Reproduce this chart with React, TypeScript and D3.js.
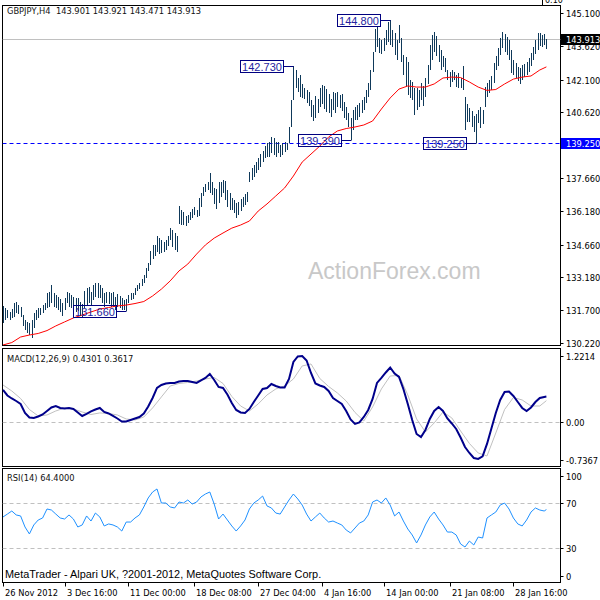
import { scaleLinear, line } from "d3"

const TITLE = "GBPJPY,H4  143.901 143.921 143.471 143.913"

// H4 bars, high / low
const HIGH = [
  131.89, 131.8, 131.71, 131.62, 131.75, 132.02, 132.07, 131.93, 131.84, 131.48,
  131.26, 131.17, 131.12, 131.26, 131.57, 131.71, 131.8, 131.8, 131.93, 132.02,
  132.47, 132.52, 132.84, 132.47, 132.38, 132.29, 132.2, 132.02, 132.25, 132.52,
  132.47, 132.38, 132.29, 132.25, 132.25, 132.07, 131.98, 132.56, 132.7, 132.75,
  132.52, 132.84, 132.93, 132.93, 132.84, 132.7, 132.47, 132.52, 132.52, 132.47,
  132.52, 132.29, 132.43, 132.34, 132.25, 132.16, 132.2, 132.38, 132.47, 132.47,
  132.7, 132.84, 132.93, 133.11, 133.29, 133.6, 133.83, 134.37, 134.64, 134.64,
  135.04, 134.95, 134.86, 134.77, 134.86, 135.04, 135.41, 135.32, 135.18, 135.04,
  136.4, 136.22, 136.13, 135.95, 135.99, 136.13, 136.26, 136.35, 136.22, 136.76,
  136.98, 137.25, 137.39, 137.48, 137.89, 137.48, 137.21, 137.16, 137.48, 137.48,
  137.57, 137.52, 137.12, 136.98, 136.76, 136.67, 136.53, 136.58, 136.71, 136.8,
  136.94, 137.03, 137.93, 138.11, 138.25, 138.38, 138.56, 138.74, 138.88, 139.1,
  139.24, 139.28, 139.51, 139.46, 139.28, 139.28, 139.15, 139.24, 139.28, 139.24,
  139.96, 141.18, 142.73, 142.53, 142.17, 142.3, 141.9, 141.72, 141.63, 141.54,
  141.18, 140.95, 141.36, 141.22, 141.72, 141.85, 141.81, 141.67, 141.45, 141.22,
  141.54, 141.49, 141.54, 141.4, 141.45, 141.09, 140.86, 140.59, 140.36, 140.73,
  140.86, 140.95, 141.04, 141.18, 141.31, 141.63, 141.94, 142.53, 143.34, 144.38,
  144.47, 143.97, 143.88, 143.97, 144.33, 144.69, 144.8, 144.33, 144.2, 143.88,
  144.56, 143.97, 143.21, 143.12, 142.89, 142.08, 141.99, 141.72, 141.72, 141.63,
  141.94, 141.81, 142.17, 142.76, 143.66, 144.11, 144.24, 144.06, 143.66, 143.43,
  143.16, 143.07, 142.53, 142.44, 142.53, 142.44, 142.3, 142.39, 142.17, 142.71,
  141.31, 140.99, 140.82, 140.68, 140.46, 140.55, 140.73, 140.86, 140.73, 141.76,
  141.94, 142.08, 142.26, 142.85, 143.16, 143.52, 143.97, 144.24, 144.15, 144.02,
  143.88, 143.43, 142.98, 142.85, 142.66, 142.62, 142.76, 142.8, 142.89, 143.07,
  143.3, 143.57, 143.88, 144.2, 144.2, 144.11, 144.15, 143.92,
]
const LOW = [
  131.12, 131.26, 131.35, 131.26, 131.35, 131.39, 131.57, 131.53, 131.39, 130.99,
  130.81, 130.67, 130.58, 130.45, 130.9, 131.26, 131.35, 131.48, 131.57, 131.71,
  131.8, 131.84, 132.02, 131.84, 131.8, 131.71, 131.62, 131.44, 131.71, 132.02,
  131.84, 131.8, 131.71, 131.62, 131.66, 131.44, 131.39, 131.8, 131.93, 132.02,
  131.93, 132.16, 132.29, 132.25, 132.25, 132.02, 131.84, 132.02, 131.98, 131.84,
  131.84, 131.71, 131.84, 131.8, 131.71, 131.72, 131.66, 132.02, 132.16, 132.2,
  132.38, 132.56, 132.65, 132.79, 132.93, 133.15, 133.47, 133.74, 134.01, 134.14,
  134.32, 134.23, 134.28, 134.32, 134.41, 134.59, 134.86, 134.55, 134.41, 134.32,
  135.59, 135.54, 135.54, 135.5, 135.63, 135.77, 135.86, 135.99, 135.9, 135.95,
  136.35, 136.85, 137.03, 137.12, 136.98, 136.89, 136.49, 136.26, 136.53, 136.8,
  136.98, 136.67, 136.35, 136.22, 136.22, 136.08, 135.86, 135.99, 136.17, 136.35,
  136.44, 136.58, 137.48, 137.57, 137.7, 137.88, 138.02, 138.16, 138.38, 138.56,
  138.61, 138.61, 138.79, 138.7, 138.61, 138.79, 138.61, 138.7, 138.83, 138.92,
  139.24, 139.96, 141.18, 141.72, 141.54, 141.31, 141.27, 141.22, 141.04, 140.91,
  140.41, 140.23, 140.37, 140.59, 140.86, 141.0, 140.77, 140.64, 140.59, 140.41,
  140.73, 140.59, 140.86, 140.82, 140.68, 140.36, 140.27, 139.96, 139.39, 139.82,
  140.27, 140.27, 140.41, 140.59, 140.73, 141.04, 141.31, 141.63, 142.44, 143.34,
  143.57, 143.3, 143.25, 143.39, 143.66, 143.79, 143.66, 143.57, 143.21, 142.98,
  143.75, 142.89, 142.3, 141.76, 141.4, 141.27, 141.18, 140.5, 140.73, 140.86,
  141.18, 140.91, 141.31, 141.9, 142.53, 142.98, 143.34, 143.16, 142.89, 142.53,
  142.67, 142.44, 142.08, 141.76, 141.99, 142.08, 141.76, 141.72, 141.72, 141.63,
  139.82, 140.19, 140.19, 139.96, 139.73, 139.25, 140.14, 139.91, 140.09, 140.86,
  141.31, 141.49, 141.63, 141.94, 142.53, 142.71, 143.21, 143.52, 143.34, 143.21,
  142.98, 142.4, 142.3, 142.17, 142.03, 141.9, 142.08, 142.21, 142.3, 142.44,
  142.71, 142.98, 143.25, 143.43, 143.61, 143.57, 143.66, 143.47,
]

// moving average, one value every 4 bars
const MA_STEP = 4
const MA = [
  130.13, 130.24, 130.49, 130.58, 130.65, 130.78, 130.99, 131.17, 131.35, 131.48,
  131.62, 131.75, 131.82, 131.89, 131.93, 132.0, 132.09, 132.34, 132.65, 133.02,
  133.47, 133.78, 134.23, 134.64, 134.95, 135.18, 135.4, 135.54, 135.72, 136.17,
  136.49, 136.85, 137.21, 137.75, 138.38, 138.74, 139.1, 139.51, 139.78, 139.89,
  139.96, 140.05, 140.23, 140.77, 141.27, 141.67, 141.81, 141.76, 141.76, 141.9,
  142.17, 142.21, 142.19, 141.99, 141.76, 141.61, 141.65, 141.9, 142.12, 142.21,
  142.26, 142.53, 142.67,
]

// MACD(12,26,9), main every 2 bars, signal every 4 bars
const MACD_STEP = 2
const MACD = [
  0.541, 0.449, 0.398, 0.356, 0.306, 0.155, 0.079, 0.071, 0.096, 0.129,
  0.188, 0.247, 0.272, 0.239, 0.23, 0.239, 0.222, 0.163, 0.104, 0.138,
  0.18, 0.213, 0.239, 0.171, 0.146, 0.104, 0.062, 0.012, 0.012, 0.037,
  0.062, 0.087, 0.146, 0.264, 0.407, 0.575, 0.625, 0.65, 0.659, 0.659,
  0.684, 0.692, 0.692, 0.676, 0.659, 0.701, 0.743, 0.81, 0.709, 0.592,
  0.575, 0.466, 0.323, 0.205, 0.163, 0.155, 0.222, 0.339, 0.449, 0.558,
  0.575, 0.642, 0.608, 0.583, 0.583, 0.726, 1.012, 1.104, 1.113, 1.037,
  0.827, 0.65, 0.617, 0.592, 0.524, 0.407, 0.356, 0.306, 0.188, 0.045,
  -0.03, -0.005, 0.087, 0.205, 0.39, 0.659, 0.743, 0.835, 0.919, 0.818,
  0.76, 0.558, 0.306, 0.037, -0.198, -0.249, -0.131, 0.054, 0.188, 0.255,
  0.188, 0.062, -0.022, -0.114, -0.257, -0.417, -0.518, -0.602, -0.618, -0.576,
  -0.366, -0.106, 0.155, 0.373, 0.508, 0.516, 0.44, 0.339, 0.239, 0.188,
  0.247, 0.339, 0.407, 0.424, 0.4301,
]
const SIGNAL_STEP = 4
const SIGNAL = [
  0.625, 0.524, 0.398, 0.213, 0.104, 0.121, 0.188, 0.239, 0.222, 0.171,
  0.129, 0.155, 0.146, 0.121, 0.054, 0.037, 0.087, 0.239, 0.424, 0.608,
  0.65, 0.667, 0.692, 0.726, 0.751, 0.65, 0.432, 0.272, 0.188, 0.306,
  0.457, 0.558, 0.608, 0.726, 0.945, 0.978, 0.734, 0.6, 0.491, 0.356,
  0.163, 0.02, 0.255, 0.558, 0.776, 0.785, 0.457, 0.054, -0.165, -0.013,
  0.171, 0.071, -0.148, -0.358, -0.518, -0.568, -0.182, 0.213, 0.415, 0.373,
  0.272, 0.272, 0.3617,
]

// RSI(14), every 2 bars
const RSI_STEP = 2
const RSI = [
  57.8, 60.4, 63.1, 59.6, 58.7, 48.9, 42.7, 50.7, 55.1, 56.9,
  64.9, 64.0, 60.4, 56.9, 56.0, 59.6, 56.0, 48.9, 50.7, 58.7,
  54.2, 61.3, 57.8, 49.8, 51.6, 50.7, 48.9, 45.3, 53.3, 53.3,
  56.9, 59.6, 66.7, 74.7, 80.0, 82.7, 70.2, 70.2, 66.7, 65.8,
  71.1, 70.2, 72.9, 69.3, 71.1, 75.6, 78.2, 80.0, 69.3, 56.0,
  60.4, 55.1, 49.8, 45.3, 49.8, 55.1, 64.9, 70.2, 72.9, 76.4,
  67.6, 65.8, 61.3, 60.4, 66.7, 72.9, 78.2, 73.8, 68.4, 60.4,
  54.2, 57.8, 61.3, 56.9, 53.3, 54.2, 52.4, 50.7, 46.2, 43.6,
  48.0, 52.4, 54.2, 59.6, 71.1, 72.9, 70.2, 74.7, 68.4, 58.7,
  62.2, 54.2, 47.1, 41.8, 34.7, 41.8, 50.7, 57.8, 62.2, 56.0,
  50.7, 44.4, 44.4, 41.8, 33.8, 31.1, 36.4, 32.9, 40.0, 39.1,
  56.9, 59.6, 62.2, 68.4, 70.2, 64.9, 56.9, 51.6, 49.8, 55.1,
  62.2, 65.8, 64.0, 63.1, 64.4,
]

const PRICE_TICKS = [145.1, 143.62, 142.1, 140.62, 137.66, 136.18, 134.66, 133.18, 131.7, 130.22]
const MACD_TICKS = [1.2214, 0, -0.7367]
const RSI_TICKS = [100, 70, 30, 0]
const RSI_LEVELS = [70, 30]

const TIME_LABELS = ["26 Nov 2012", "3 Dec 16:00", "11 Dec 00:00", "18 Dec 08:00", "27 Dec 04:00", "4 Jan 16:00", "14 Jan 00:00", "21 Jan 08:00", "28 Jan 16:00"]
const TIME_BARS = [0, 28, 57, 87, 116, 145, 173, 203, 232]

// swing high/low labels
const SWING_BARS = [56, 132, 158, 176, 215]
const SWING_PRICES = [131.66, 142.73, 139.39, 144.8, 139.25]

const LAST_PRICE = 143.913
const LEVEL_PRICE = 139.25

const AXIS_FONT = "'DejaVu Sans', sans-serif"
const LEFT = 2.5
const RIGHT = 560.5
const MAIN = { top: 5.5, bottom: 345.5 }
const SUB1 = { top: 348.5, bottom: 466.5 }
const SUB2 = { top: 468.5, bottom: 582.5 }

export default function App() {
  const n = HIGH.length
  const x = scaleLinear().domain([0, n - 1]).range([3, 546.4])
  const px = (i: number) => Math.round(x(i)) + 0.5

  const yPrice = scaleLinear().domain([130.22, 145.1]).range([343, 13])
  const yMacd = scaleLinear().domain([-0.7367, 1.2214]).range([466, 349.5])
  const yRsi = scaleLinear().domain([0, 100]).range([582, 469.5])

  const stepPath = (vals: number[], step: number, y: (v: number) => number) =>
    line<number>()
      .x((_, k) => x(Math.min(k * step, n - 1)))
      .y((v) => y(v))(vals) ?? ""

  const labelY = (y: number, p: { top: number; bottom: number }) =>
    Math.min(Math.max(y, p.top + 7), p.bottom - 6.5)

  return (
    <svg width={600} height={600} style={{ display: "block", position: "absolute", left: 0, top: 0, background: "#fff" }}>
      <defs>
        <clipPath id="main">
          <rect x={LEFT} y={MAIN.top} width={RIGHT - LEFT} height={MAIN.bottom - MAIN.top} />
        </clipPath>
        <clipPath id="sub1">
          <rect x={LEFT} y={SUB1.top} width={RIGHT - LEFT} height={SUB1.bottom - SUB1.top} />
        </clipPath>
        <clipPath id="sub2">
          <rect x={LEFT} y={SUB2.top} width={RIGHT - LEFT} height={SUB2.bottom - SUB2.top} />
        </clipPath>
      </defs>

      {/* top-right corner stub */}
      <path d={`M542.5,0V${MAIN.top}`} stroke="#000" />
      <text x={545} y={3} fontFamily={AXIS_FONT} fontSize={8} fill="#000">0.10</text>

      {/* panel frames */}
      {[MAIN, SUB1, SUB2].map((p, i) => (
        <rect key={i} x={LEFT} y={p.top} width={RIGHT - LEFT} height={p.bottom - p.top} fill="none" stroke="#000" shapeRendering="crispEdges" />
      ))}

      {/* watermark */}
      <text x={308} y={279} fontFamily="'Liberation Sans', Arial, sans-serif" fontSize={23} fill="#c8c8c8">ActionForex.com</text>

      {/* main panel */}
      <g clipPath="url(#main)">
        <line x1={LEFT} x2={RIGHT} y1={Math.round(yPrice(LAST_PRICE)) + 0.5} y2={Math.round(yPrice(LAST_PRICE)) + 0.5} stroke="#c0c0c0" />
        <line x1={LEFT} x2={RIGHT} y1={Math.round(yPrice(LEVEL_PRICE)) + 0.5} y2={Math.round(yPrice(LEVEL_PRICE)) + 0.5} stroke="#0000ff" strokeDasharray="4,3" />
        {HIGH.map((h, i) => (
          <line key={i} x1={px(i)} x2={px(i)} y1={yPrice(h)} y2={yPrice(LOW[i])} stroke="#0f395a" strokeWidth={1} shapeRendering="crispEdges" />
        ))}
        <path d={stepPath(MA, MA_STEP, yPrice)} fill="none" stroke="#ff0000" strokeWidth={1} />
        {SWING_BARS.map((b, j) => {
          const bx = px(b)
          const yy = Math.round(yPrice(SWING_PRICES[j])) + 0.5
          const right = Math.round(x(b)) - 10 + 0.5
          const left = right - 43
          return (
            <g key={j}>
              <rect x={left} y={yy - 6} width={43} height={12} fill="none" stroke="#000080" />
              <path d={`M${right},${yy}H${bx}`} stroke="#000080" fill="none" />
              <text x={left + 21.5} y={yy + 4} textAnchor="middle" fontFamily="'Liberation Sans', Arial, sans-serif" fontSize={11} fill="#2424a0">
                {SWING_PRICES[j].toFixed(3)}
              </text>
            </g>
          )
        })}
      </g>
      <text x={7} y={14} fontFamily={AXIS_FONT} fontSize={8.3} fill="#111" style={{ whiteSpace: "pre" }}>{TITLE}</text>

      {/* MACD panel */}
      <g clipPath="url(#sub1)">
        <line x1={LEFT} x2={RIGHT} y1={Math.round(yMacd(0)) + 0.5} y2={Math.round(yMacd(0)) + 0.5} stroke="#c0c0c0" strokeDasharray="4,3" />
        <path d={stepPath(SIGNAL, SIGNAL_STEP, yMacd)} fill="none" stroke="#c0c0c0" strokeWidth={1} />
        <path d={stepPath(MACD, MACD_STEP, yMacd)} fill="none" stroke="#00008b" strokeWidth={2} />
      </g>
      <text x={7} y={362} fontFamily={AXIS_FONT} fontSize={8.3} fill="#111">
        MACD(12,26,9) {MACD[MACD.length - 1].toFixed(4)} {SIGNAL[SIGNAL.length - 1].toFixed(4)}
      </text>

      {/* RSI panel */}
      <g clipPath="url(#sub2)">
        {RSI_LEVELS.map((l) => (
          <line key={l} x1={LEFT} x2={RIGHT} y1={Math.round(yRsi(l)) + 0.5} y2={Math.round(yRsi(l)) + 0.5} stroke="#c0c0c0" strokeDasharray="4,3" />
        ))}
        <path d={stepPath(RSI, RSI_STEP, yRsi)} fill="none" stroke="#1e90ff" strokeWidth={1} />
      </g>
      <text x={7} y={481} fontFamily={AXIS_FONT} fontSize={8.3} fill="#111">
        RSI(14) {RSI[RSI.length - 1].toFixed(4)}
      </text>
      <text x={5} y={578} fontFamily="'Liberation Sans', Arial, sans-serif" fontSize={10.9} fill="#000">
        MetaTrader - Alpari UK, ?2001-2012, MetaQuotes Software Corp.
      </text>

      {/* right axis */}
      {PRICE_TICKS.map((t) => {
        const yy = Math.round(yPrice(t)) + 0.5
        return (
          <g key={t}>
            <line x1={RIGHT} x2={RIGHT + 3} y1={yy} y2={yy} stroke="#000" />
            <text x={566} y={yy + 3} fontFamily={AXIS_FONT} fontSize={8.3} fill="#000">{t.toFixed(3)}</text>
          </g>
        )
      })}
      {MACD_TICKS.map((t) => {
        const yy = Math.round(labelY(yMacd(t), SUB1)) + 0.5
        return (
          <g key={t}>
            <line x1={RIGHT} x2={RIGHT + 3} y1={yy} y2={yy} stroke="#000" />
            <text x={566} y={yy + 3} fontFamily={AXIS_FONT} fontSize={8.3} fill="#000">{t === 0 ? "0.00" : t.toFixed(4)}</text>
          </g>
        )
      })}
      {RSI_TICKS.map((t) => {
        const yy = Math.round(labelY(yRsi(t), SUB2)) + 0.5
        return (
          <g key={t}>
            <line x1={RIGHT} x2={RIGHT + 3} y1={yy} y2={yy} stroke="#000" />
            <text x={566} y={yy + 3} fontFamily={AXIS_FONT} fontSize={8.3} fill="#000">{t}</text>
          </g>
        )
      })}
      {/* current price and level markers */}
      <rect x={561} y={Math.round(yPrice(LAST_PRICE)) - 5} width={39} height={11} fill="#000" />
      <text x={566} y={Math.round(yPrice(LAST_PRICE)) + 3.5} fontFamily={AXIS_FONT} fontSize={8.3} fill="#fff">{LAST_PRICE.toFixed(3)}</text>
      <rect x={561} y={Math.round(yPrice(LEVEL_PRICE)) - 5} width={39} height={11} fill="#0000ff" />
      <text x={566} y={Math.round(yPrice(LEVEL_PRICE)) + 3.5} fontFamily={AXIS_FONT} fontSize={8.3} fill="#fff">{LEVEL_PRICE.toFixed(3)}</text>

      {/* time axis */}
      {TIME_BARS.map((b, i) => {
        const tx = px(b)
        return (
          <g key={b}>
            <line x1={tx} x2={tx} y1={SUB2.bottom} y2={SUB2.bottom + 4} stroke="#000" />
            <text x={tx + 1.5} y={596} fontFamily={AXIS_FONT} fontSize={8.3} fill="#000">{TIME_LABELS[i]}</text>
          </g>
        )
      })}
    </svg>
  )
}
